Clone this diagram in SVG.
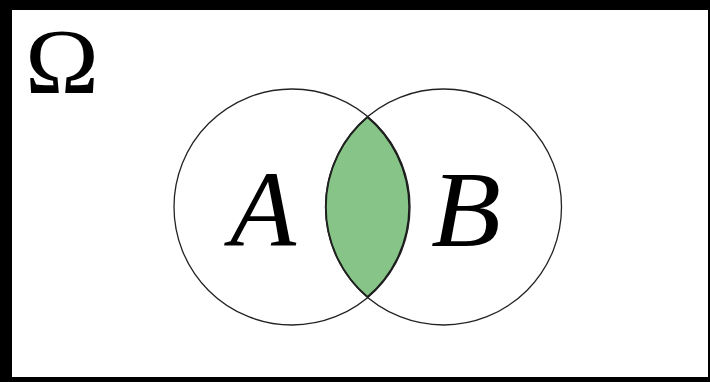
<svg xmlns="http://www.w3.org/2000/svg" width="710" height="382" viewBox="0 0 710 382">
<style>
.circ{fill:none;stroke:#222;stroke-width:1.3}
.serif{font-family:"Times New Roman","Liberation Serif",Times,serif;fill:#000}
.lbl{font-style:italic}
</style>
<rect x="0" y="0" width="710" height="382" fill="#000"/>
<rect x="12" y="10" width="696" height="367" fill="#fff"/>
<text class="serif" x="25" y="93" font-size="93" textLength="74" lengthAdjust="spacingAndGlyphs">Ω</text>
<g id="lens">
<path d="M367.5,117 A118,118 0 0 1 367.5,297 A118,118 0 0 1 367.5,117 Z" fill="#87c488" stroke="#1a1a1a" stroke-width="1.8"/>
</g>
<g id="A">
<circle class="circ" cx="292" cy="207" r="118"/>
<text class="serif lbl" x="230" y="246" font-size="108">A</text>
</g>
<g id="B">
<circle class="circ" cx="443.5" cy="207" r="118"/>
<text class="serif lbl" x="431" y="246" font-size="108" textLength="70" lengthAdjust="spacingAndGlyphs">B</text>
</g>
</svg>
